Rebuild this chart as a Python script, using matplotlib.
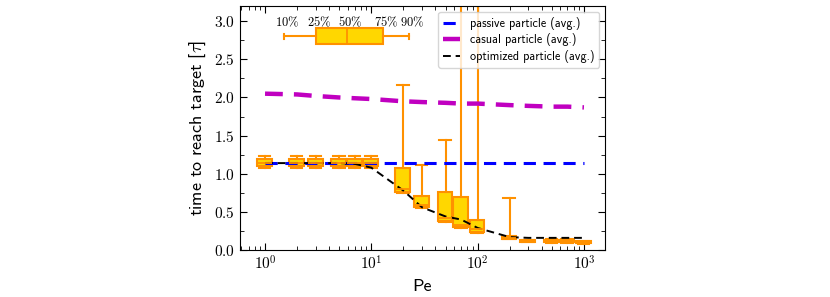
import matplotlib
matplotlib.use("Agg")
import matplotlib.pyplot as plt
import matplotlib.ticker as mticker
import numpy as np

plt.rcParams['mathtext.fontset'] = 'cm'
plt.rcParams['font.family'] = ['cmss10', 'DejaVu Sans']
plt.rcParams['axes.unicode_minus'] = False

# --- data ---
pe = [1, 2, 3, 5, 7, 10, 20, 30, 50, 70, 100, 200, 300, 500, 700, 1000]
p10 = [1.07, 1.07, 1.07, 1.07, 1.07, 1.07, 0.75, 0.55, 0.37, 0.29, 0.23, 0.14, 0.10, 0.09, 0.09, 0.08]
p25 = [1.10, 1.10, 1.10, 1.10, 1.10, 1.10, 0.76, 0.56, 0.38, 0.30, 0.24, 0.14, 0.10, 0.10, 0.10, 0.09]
p50 = [1.14, 1.14, 1.14, 1.14, 1.14, 1.14, 0.80, 0.59, 0.42, 0.33, 0.27, 0.16, 0.11, 0.11, 0.11, 0.10]
p75 = [1.19, 1.19, 1.19, 1.19, 1.19, 1.19, 1.07, 0.71, 0.76, 0.70, 0.40, 0.18, 0.13, 0.13, 0.13, 0.12]
p90 = [1.23, 1.23, 1.23, 1.23, 1.23, 1.23, 2.17, 1.12, 1.44, 3.60, 3.60, 0.68, 0.13, 0.14, 0.14, 0.12]

passive = [1.14] * 16
casual = [2.05, 2.04, 2.02, 2.00, 1.99, 1.98, 1.95, 1.94, 1.93, 1.92, 1.92, 1.90, 1.89, 1.88, 1.88, 1.87]
optimized = [1.14, 1.14, 1.14, 1.14, 1.13, 1.08, 0.78, 0.56, 0.44, 0.40, 0.29, 0.17, 0.16, 0.16, 0.16, 0.16]

legend_pct = ['10%', '25%', '50%', '75%', '90%']
legend_x = [1.51, 3.03, 5.94, 13.0, 22.8]
legend_y = 2.80

orange = '#FF9100'
gold = '#FFD700'

fig = plt.figure(figsize=(8.30, 2.97), dpi=100)
ax = fig.add_axes([0.289, 0.158, 0.440, 0.822])

stats = [dict(med=m, q1=a, q3=b, whislo=lo, whishi=hi, fliers=[])
         for lo, a, m, b, hi in zip(p10, p25, p50, p75, p90)]
widths = [0.32 * p for p in pe]
box_kw = dict(patch_artist=True,
              boxprops=dict(facecolor=gold, edgecolor=orange, linewidth=1.5),
              medianprops=dict(color=orange, linewidth=1.3),
              whiskerprops=dict(color=orange, linewidth=1.5),
              capprops=dict(color=orange, linewidth=1.5),
              manage_ticks=False)
res = ax.bxp(stats, positions=pe, widths=widths, capwidths=[0.25 * p for p in pe], **box_kw)
for m in res['medians']:
    m.set_zorder(5)

# key box
kstat = [dict(med=legend_x[2], q1=legend_x[1], q3=legend_x[3],
              whislo=legend_x[0], whishi=legend_x[4], fliers=[])]
try:
    ax.bxp(kstat, positions=[legend_y], widths=[0.21], capwidths=[0.07],
           orientation='horizontal', **box_kw)
except TypeError:
    ax.bxp(kstat, positions=[legend_y], widths=[0.21], capwidths=[0.07],
           vert=False, **box_kw)
for lab, xv in zip(legend_pct, legend_x):
    ax.text(xv * 1.06, 2.99, r'$' + lab.replace('%', r'\%') + r'$',
            ha='center', va='center', fontsize=9)

ax.plot(pe, passive, color='#0000FF', lw=2.2, ls=(0, (4, 2.5)),
        label='passive particle (avg.)', zorder=3)
ax.plot(pe, casual, color='#C000C0', lw=3.2, ls=(0, (4, 2.5)),
        label='casual particle (avg.)', zorder=3)
ax.plot(pe, optimized, color='black', lw=1.4, ls=(0, (4, 2.5)),
        label='optimized particle (avg.)', zorder=4)

ax.set_xscale('log')
ax.set_xlim(0.58, 1580)
ax.set_ylim(0, 3.2)
ax.yaxis.set_major_locator(mticker.MultipleLocator(0.5))
ax.yaxis.set_minor_locator(mticker.MultipleLocator(0.25))
ax.yaxis.set_major_formatter(mticker.FuncFormatter(lambda v, p: r'$%.1f$' % v))
ax.xaxis.set_major_locator(mticker.LogLocator(base=10, numticks=10))
ax.xaxis.set_major_formatter(mticker.FuncFormatter(lambda v, p: r'$10^{%d}$' % round(np.log10(v))))
ax.xaxis.set_minor_locator(mticker.LogLocator(base=10, subs=np.arange(2, 10), numticks=20))
ax.xaxis.set_minor_formatter(mticker.NullFormatter())
ax.tick_params(which='both', direction='in', top=True, right=True, labelsize=11)
ax.tick_params(which='major', length=5)
ax.tick_params(which='minor', length=3)

ax.set_xlabel('Pe', fontsize=13)
ax.set_ylabel(r'time to reach target [$\tau$]', fontsize=13)

leg = ax.legend(loc='upper right', fontsize=8.7, frameon=True, fancybox=True,
                handlelength=1.4, borderaxespad=0.5, labelspacing=0.3,
                borderpad=0.4, handletextpad=0.8)
leg.get_frame().set_edgecolor('#cccccc')

fig.savefig('out.png', dpi=100)
